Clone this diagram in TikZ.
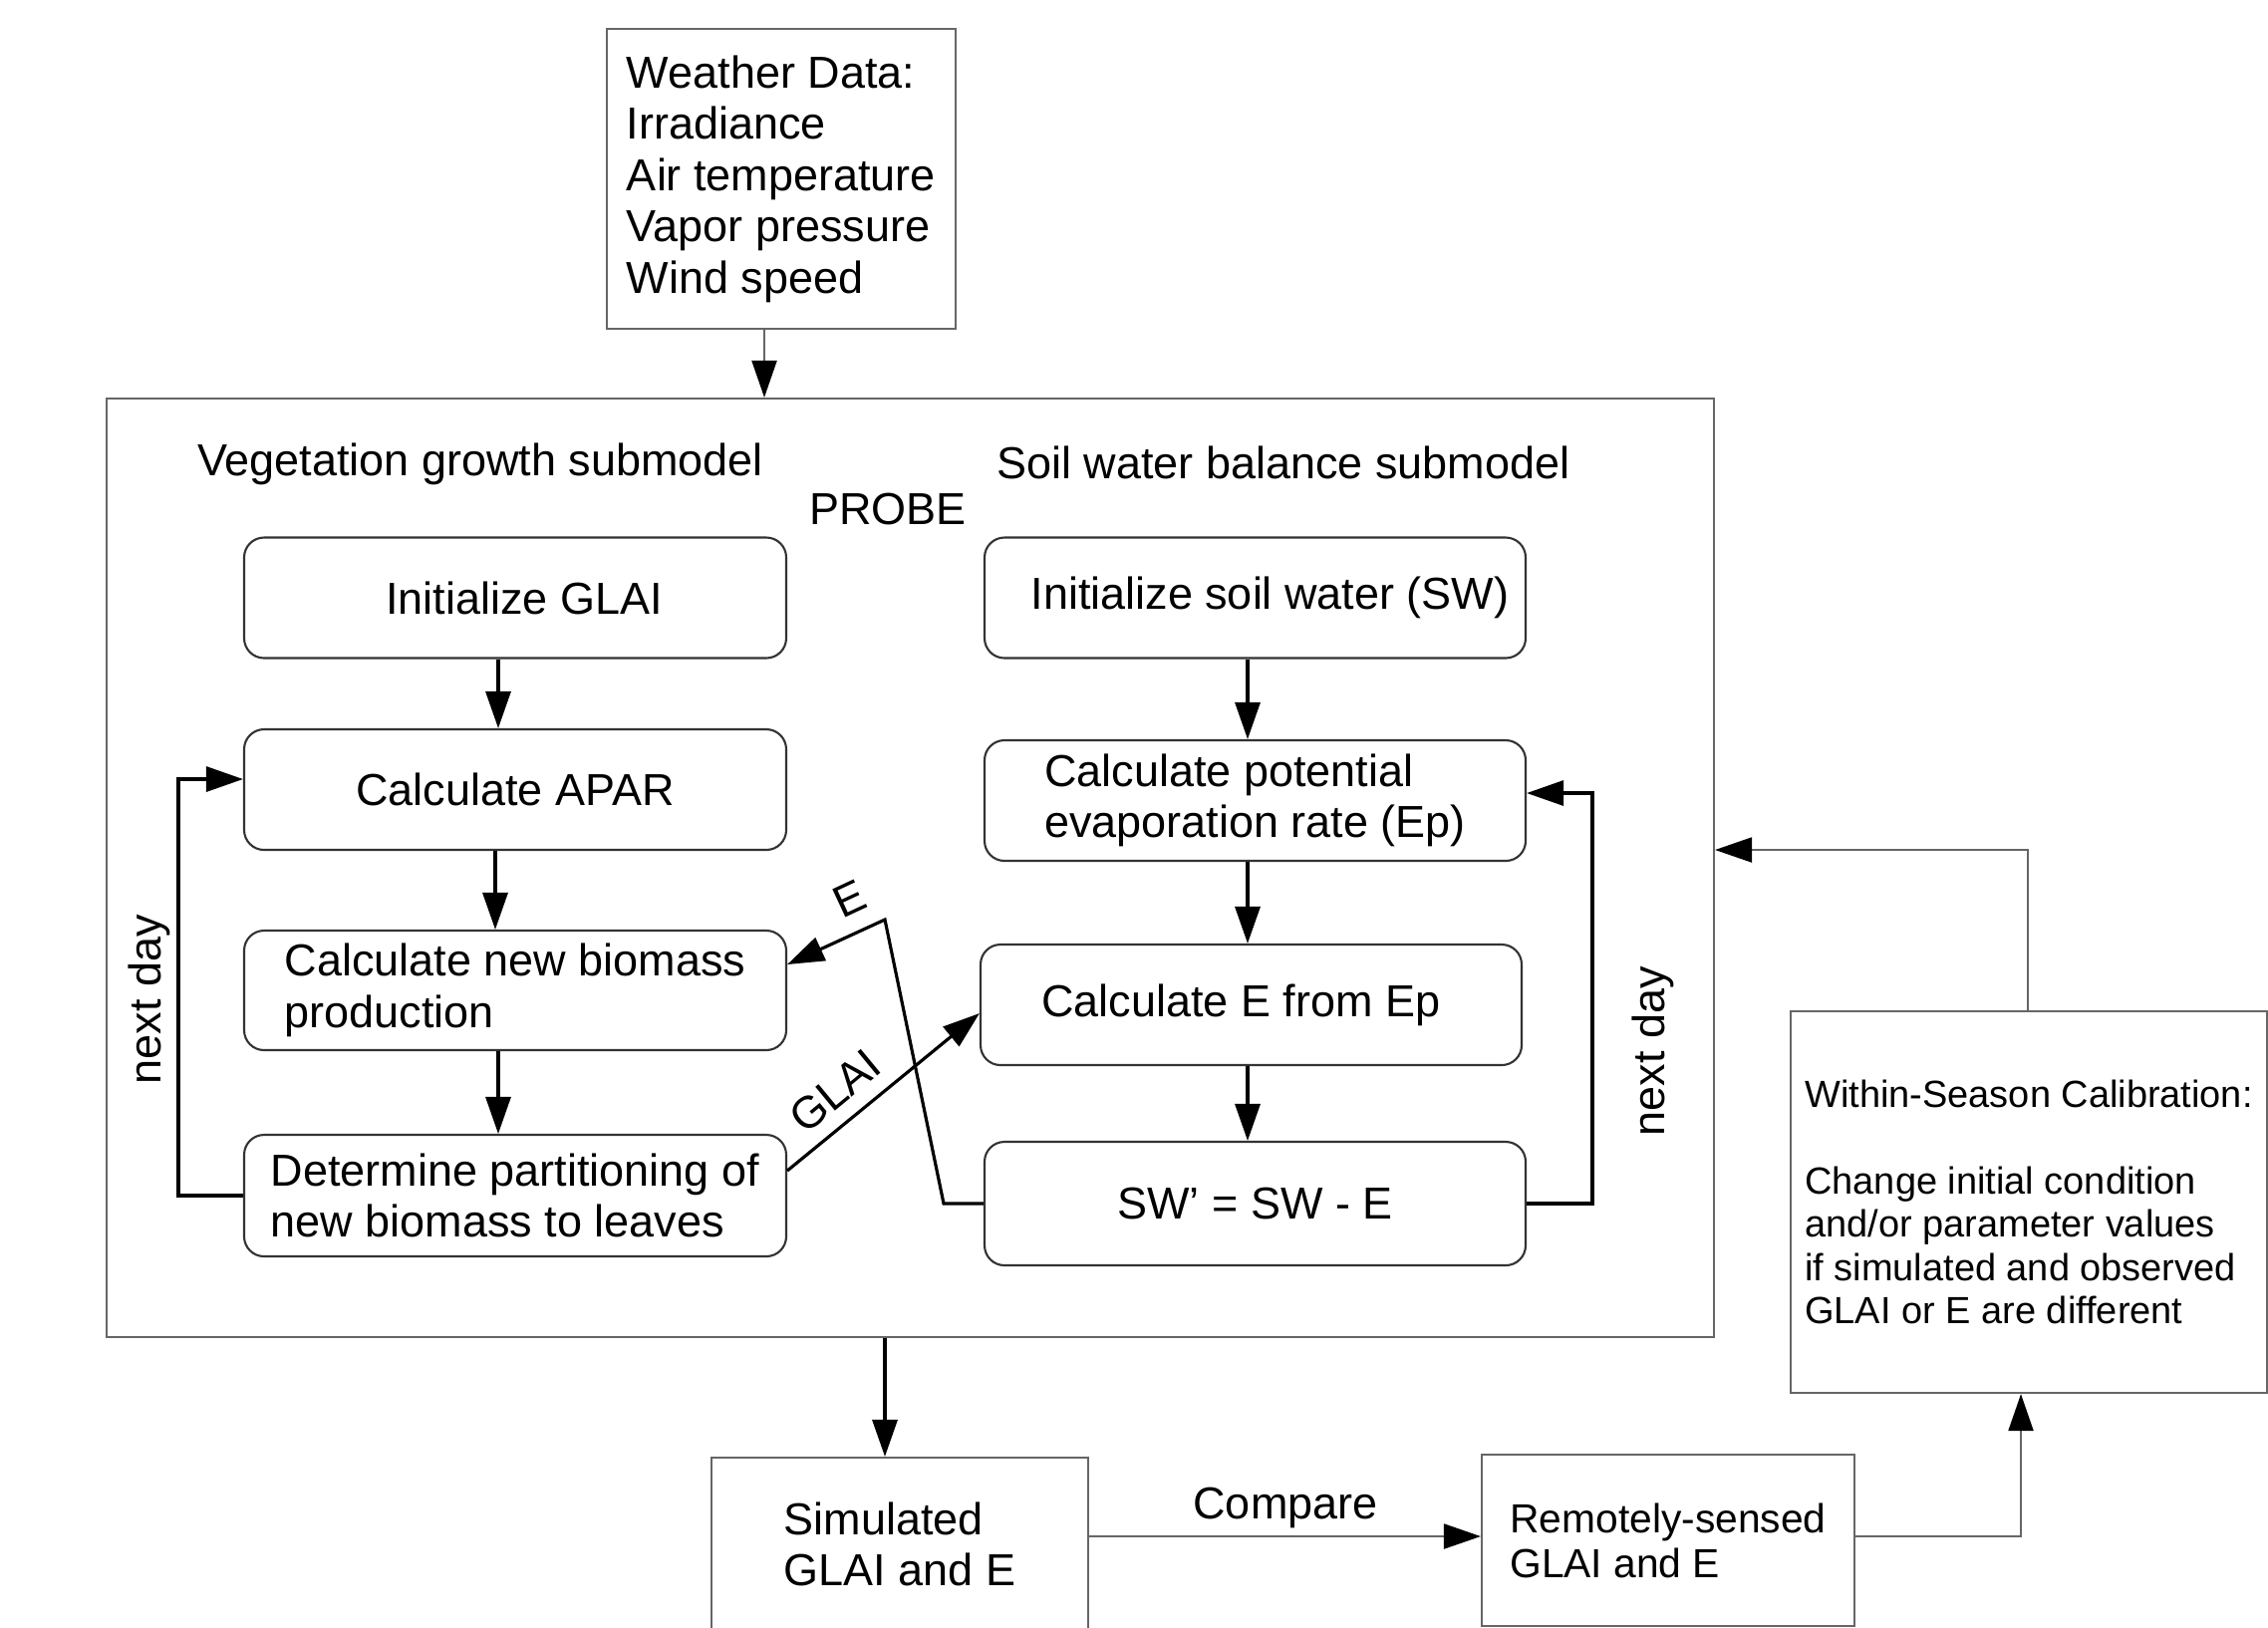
\documentclass[tikz,border=0pt]{standalone}
\usepackage{fontspec}
\setmainfont{Liberation Sans}
\usetikzlibrary{arrows.meta}
\newcommand{\mainfnt}{\fontsize{12.8pt}{14.65pt}\selectfont}
\newcommand{\calfnt}{\fontsize{10.8pt}{12.4pt}\selectfont}
\newcommand{\remfnt}{\fontsize{11.6pt}{12.8pt}\selectfont}
\begin{document}
\begin{tikzpicture}[x=1cm,y=1cm,
  rbox/.style={draw=black!80, line width=0.6pt, rounded corners=0.2cm, inner sep=0pt,
    minimum width=5.44cm, minimum height=1.21cm, font=\mainfnt, align=left},
  sbox/.style={draw=black!60, line width=0.6pt, inner sep=0pt, font=\mainfnt, align=left},
  lbl/.style={font=\mainfnt, inner sep=0pt},
  tip/.style={-{Triangle[length=0.37cm,width=0.25cm,color=black]}},
  conn/.style={draw=black, line width=0.9pt},
  thinconn/.style={draw=black!60, line width=0.6pt}
]
\useasboundingbox (0,0) rectangle (22.76,-16.33);
\clip (0,0) rectangle (22.76,-16.33);
\fill[white] (0,0) rectangle (22.76,-16.33);

% outer boxes
\node[sbox, minimum width=3.50cm, minimum height=3.01cm] (weather) at (7.84,-1.795)
  {Weather Data:\\Irradiance\\Air temperature\\Vapor pressure\\Wind speed};
\node[sbox, minimum width=16.13cm, minimum height=9.42cm] (probe) at (9.135,-8.71) {};
\node[sbox, minimum width=3.78cm, minimum height=1.74cm] (sim) at (9.03,-15.50)
  {Simulated\\GLAI and E};
\node[sbox, font=\remfnt, minimum width=3.74cm, minimum height=1.72cm] (rem) at (16.74,-15.46)
  {Remotely-sensed\\GLAI and E};
\node[sbox, font=\calfnt, minimum width=4.78cm, minimum height=3.83cm] (cal) at (20.36,-12.065)
  {Within-Season Calibration:\\[0.43cm]Change initial condition\\and/or parameter values\\if simulated and observed\\GLAI or E are different};

% headings
\node[lbl] (veg) at (4.82,-4.66) {Vegetation growth submodel};
\node[lbl] (soil) at (12.88,-4.64) {Soil water balance submodel};
\node[lbl] (probelbl) at (8.91,-5.11) {PROBE};

% left column
\node[rbox] (initG) at (5.17,-6.00) {\hspace*{0.18cm}Initialize GLAI};
\node[rbox] (apar) at (5.17,-7.925) {Calculate APAR};
\node[rbox, minimum height=1.20cm] (bio) at (5.17,-9.94) {Calculate new biomass\\production};
\node[rbox, minimum height=1.22cm] (det) at (5.17,-12.00) {Determine partitioning of\\new biomass to leaves};

% right column
\node[rbox, minimum width=5.43cm] (initS) at (12.595,-6.00) {\hspace*{0.3cm}Initialize soil water (SW)};
\node[rbox, minimum width=5.43cm] (ep) at (12.595,-8.035) {Calculate potential\\evaporation rate (Ep)};
\node[rbox, minimum width=5.43cm] (calcE) at (12.555,-10.085) {Calculate E from Ep\hspace*{0.2cm}};
\node[rbox, minimum width=5.43cm, minimum height=1.24cm] (sw2) at (12.595,-12.08) {SW' = SW - E};

% vertical flow arrows
\draw[conn, tip] (5.00,0 |- initG.south) -- (5.00,0 |- apar.north);
\draw[conn, tip] (4.97,0 |- apar.south) -- (4.97,0 |- bio.north);
\draw[conn, tip] (5.00,0 |- bio.south) -- (5.00,0 |- det.north);
\draw[conn, tip] (12.52,0 |- initS.south) -- (12.52,0 |- ep.north);
\draw[conn, tip] (12.52,0 |- ep.south) -- (12.52,0 |- calcE.north);
\draw[conn, tip] (12.52,0 |- calcE.south) -- (12.52,0 |- sw2.north);

% next day loops
\coordinate (lcorner) at (1.79,-7.82);
\draw[conn, tip] (det.west) -| (lcorner) -- (apar.west |- lcorner);
\node[lbl, rotate=90] (nd1) at (1.50,-10.03) {next day};
\coordinate (rcorner) at (15.98,-7.96);
\draw[conn, tip] (sw2.east) -| (rcorner) -- (ep.east |- rcorner);
\node[lbl, rotate=90] (nd2) at (16.59,-10.55) {next day};

% E and GLAI exchange
\coordinate (eA) at (9.47,-12.08);
\coordinate (eB) at (8.88,-9.23);
\draw[conn, tip] (sw2.west) -- (eA) -- (eB) -- (bio.east |- 0,-9.68);
\node[lbl, rotate=25] (elbl) at (8.53,-9.02) {E};
\draw[conn, tip] (det.east |- 0,-11.75) -- (calcE.west |- 0,-10.17);
\node[lbl, rotate=39.5] (glbl) at (8.38,-10.95) {GLAI};

% outer connectors
\draw[thinconn, tip] (7.67,0 |- weather.south) -- (7.67,0 |- probe.north);
\draw[conn, tip] (8.88,0 |- probe.south) -- (8.88,0 |- sim.north);
\draw[thinconn, tip] (sim.east |- 0,-15.42) -- (rem.west |- 0,-15.42);
\node[lbl] (cmp) at (12.90,-15.13) {Compare};
\draw[thinconn, tip] (rem.east |- 0,-15.42) -| (20.28,0 |- cal.south);
\draw[thinconn, tip] (20.35,0 |- cal.north) |- (probe.east |- 0,-8.53);
\end{tikzpicture}
\end{document}
